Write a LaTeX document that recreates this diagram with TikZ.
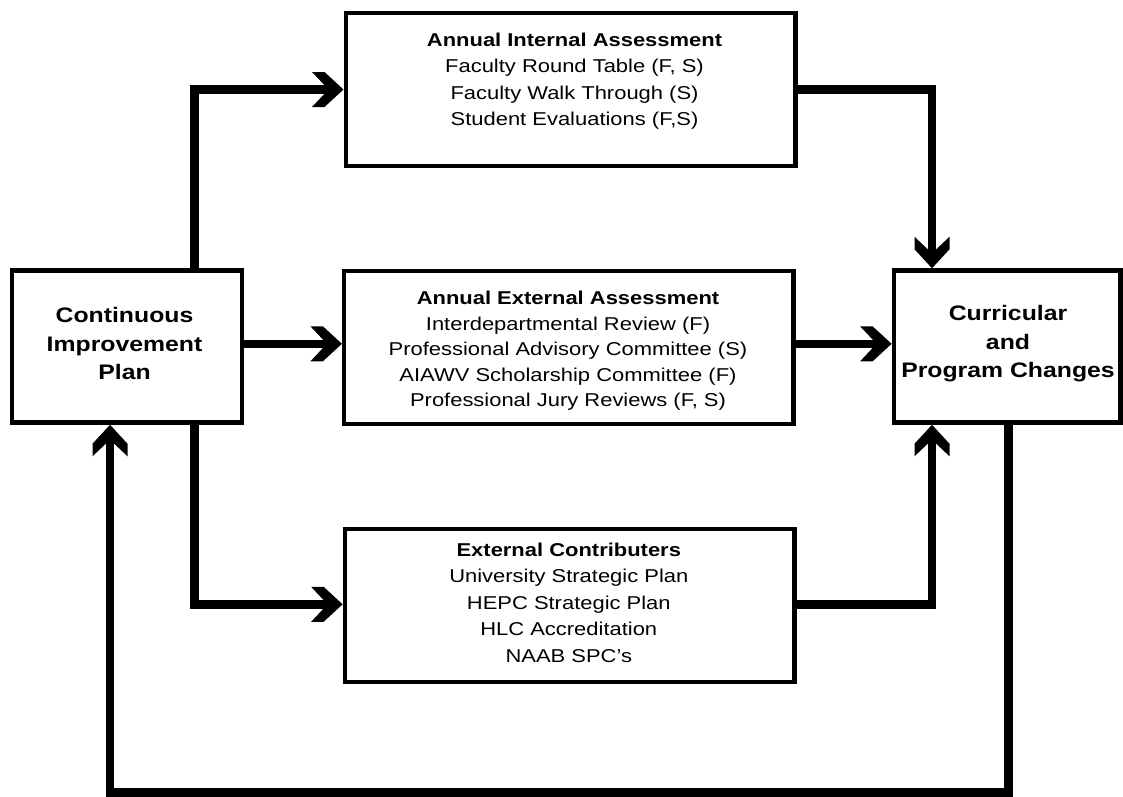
\documentclass[tikz,border=0pt]{standalone}
\usepackage{fontspec}
\setmainfont{Liberation Sans}[FakeStretch=1.18]
\pgfdeclarearrow{
  name = Chev,
  setup code = {
    \pgfarrowssettipend{0pt}
    \pgfarrowssetlineend{-12pt}
    \pgfarrowssetbackend{-31.5pt}
    \pgfarrowssetvisualbackend{-15pt}
    \pgfarrowshullpoint{0pt}{0pt}
    \pgfarrowshullpoint{-31.5pt}{17.5pt}
    \pgfarrowshullpoint{-31.5pt}{-17.5pt}
  },
  drawing code = {
    \pgfpathmoveto{\pgfqpoint{0pt}{0pt}}
    \pgfpathlineto{\pgfqpoint{-19pt}{17.5pt}}
    \pgfpathlineto{\pgfqpoint{-31.5pt}{17.5pt}}
    \pgfpathlineto{\pgfqpoint{-15pt}{0pt}}
    \pgfpathlineto{\pgfqpoint{-31.5pt}{-17.5pt}}
    \pgfpathlineto{\pgfqpoint{-19pt}{-17.5pt}}
    \pgfpathclose
    \pgfusepathqfill
  }
}
\tikzset{
  cbox/.style={draw=black, line width=4.5pt, inner sep=0pt, minimum width=449.5pt, minimum height=153pt},
  sbox/.style={draw=black, line width=4.5pt, inner sep=0pt, minimum height=152pt},
  conn/.style={draw=black, line width=8.5pt, -Chev, line join=miter},
  txt/.style={anchor=base, inner sep=0pt, font=\fontsize{18.6}{22}\selectfont},
  ttl/.style={txt, font=\fontsize{18.6}{22}\selectfont\bfseries},
  stxt/.style={anchor=base, inner sep=0pt, font=\fontsize{21}{25}\selectfont\bfseries}
}
\begin{document}
\begin{tikzpicture}[x=1pt,y=-1pt]
\useasboundingbox[fill=white] (0,0) rectangle (1123,796);

% boxes
\node[sbox, minimum width=229.8pt] (lb) at (127.1,346.5) {};
\node[sbox, minimum width=226.7pt] (rb) at (1007.2,346.5) {};
\node[cbox] (ib) at (570.5,89.5) {};
\node[cbox] (mb) at (568.9,347.5) {};
\node[cbox] (bb) at (569.6,605.3) {};

% texts: left box
\node[stxt] (l1) at (124.5,322.5) {Continuous};
\node[stxt] (l2) at (124.5,351) {Improvement};
\node[stxt] (l3) at (124.5,379.5) {Plan};
% right box
\node[stxt] (r1) at (1008,320.5) {Curricular};
\node[stxt] (r2) at (1008,349) {and};
\node[stxt] (r3) at (1008,377.5) {Program Changes};
% top box
\node[ttl] (i1) at (574.5,46) {Annual Internal Assessment};
\node[txt] (i2) at (574.5,72.5) {Faculty Round Table (F, S)};
\node[txt] (i3) at (574.5,99) {Faculty Walk Through (S)};
\node[txt] (i4) at (574.5,125.5) {Student Evaluations (F,S)};
% middle box
\node[ttl] (m1) at (568,304) {Annual External Assessment};
\node[txt] (m2) at (568,330) {Interdepartmental Review (F)};
\node[txt] (m3) at (568,355.5) {Professional Advisory Committee (S)};
\node[txt] (m4) at (568,381) {AIAWV Scholarship Committee (F)};
\node[txt] (m5) at (568,406.5) {Professional Jury Reviews (F, S)};
% bottom box
\node[ttl] (b1) at (568.8,556) {External Contributers};
\node[txt] (b2) at (568.8,582.5) {University Strategic Plan};
\node[txt] (b3) at (568.8,609) {HEPC Strategic Plan};
\node[txt] (b4) at (568.8,635.5) {HLC Accreditation};
\node[txt] (b5) at (568.8,662) {NAAB SPC’s};

% routing coordinates
\coordinate (cl) at (194.7,0);
\coordinate (cr) at (932,0);
\coordinate (cfr) at (1008.3,0);
\coordinate (cfl) at (110,0);
\coordinate (rowtop) at (0,89.5);
\coordinate (rowmid) at (0,343.8);
\coordinate (rowbot) at (0,604.3);
\coordinate (rowfb) at (0,792.3);

% connectors
\draw[conn] (lb.north -| cl) |- (ib.west |- rowtop);
\draw[conn] (lb.east |- rowmid) -- (mb.west |- rowmid);
\draw[conn] (lb.south -| cl) |- (bb.west |- rowbot);
\draw[conn] (ib.east |- rowtop) -| (rb.north -| cr);
\draw[conn] (mb.east |- rowmid) -- (rb.west |- rowmid);
\draw[conn] (bb.east |- rowbot) -| (rb.south -| cr);
\draw[conn] (rb.south -| cfr) |- (rowfb -| cfl) -- (lb.south -| cfl);
\end{tikzpicture}
\end{document}
